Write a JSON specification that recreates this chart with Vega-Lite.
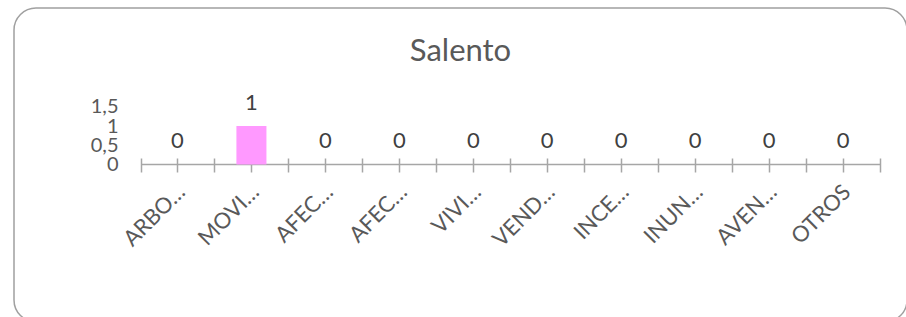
{
  "$schema": "https://vega.github.io/schema/vega-lite/v6.json",
  "width": 893,
  "height": 314,
  "autosize": {"type": "none"},
  "padding": {"left": 14, "top": 8, "right": 0, "bottom": 0},
  "background": "white",
  "title": {
    "text": "Salento",
    "offset": -84,
    "baseline": "alphabetic",
    "anchor": "middle",
    "frame": "group",
    "fontSize": 31,
    "font": "Lato",
    "fontWeight": "normal",
    "color": "#595959"
  },
  "data": {
    "values": [
      {"categoria": "ARBOLES CAIDOS", "eventos": 0},
      {"categoria": "MOVIMIENTOS EN MASA", "eventos": 1},
      {"categoria": "AFECTACION VIAL", "eventos": 0},
      {"categoria": "AFECTACION DE SERVICIOS", "eventos": 0},
      {"categoria": "VIVIENDAS AVERIADAS", "eventos": 0},
      {"categoria": "VENDAVALES", "eventos": 0},
      {"categoria": "INCENDIOS FORESTALES", "eventos": 0},
      {"categoria": "INUNDACIONES", "eventos": 0},
      {"categoria": "AVENIDAS TORRENCIALES", "eventos": 0},
      {"categoria": "OTROS", "eventos": 0}
    ]
  },
  "layer": [
    {
      "mark": {"type": "bar", "color": "#ff99ff", "width": {"band": 0.406}},
      "encoding": {
        "x": {
          "field": "categoria",
          "type": "nominal",
          "sort": null,
          "scale": {"range": [126.5, 866], "paddingInner": 0, "paddingOuter": 0},
          "axis": {
            "orient": "bottom",
            "offset": -158,
            "title": null,
            "domain": true,
            "domainColor": "#a6a6a6",
            "domainWidth": 1.5,
            "ticks": false,
            "tickSize": 0,
            "labelAngle": -45,
            "labelAlign": "right",
            "labelBaseline": "top",
            "labelPadding": 17,
            "labelOffset": -3,
            "labelFont": "Lato",
            "labelFontSize": 22,
            "labelColor": "#595959",
            "labelLimit": 200,
            "labelOverlap": false,
            "labelExpr": "length(datum.label) > 5 ? substring(datum.label, 0, 4) + '…' : datum.label"
          }
        },
        "y": {
          "field": "eventos",
          "type": "quantitative",
          "scale": {"domain": [-4.091, 4.065], "nice": false, "zero": false},
          "axis": {
            "orient": "left",
            "offset": -104,
            "title": null,
            "domain": false,
            "ticks": false,
            "tickSize": 0,
            "grid": false,
            "values": [0, 0.5, 1, 1.5],
            "labelExpr": "replace(format(datum.value, '~g'), '.', ',')",
            "labelPadding": 0,
            "labelFont": "Lato",
            "labelFontSize": 20,
            "labelColor": "#595959",
            "labelOverlap": false,
            "labelFlush": false,
            "labelBound": false
          }
        }
      }
    },
    {
      "mark": {"type": "text", "baseline": "alphabetic", "dy": -16, "font": "Lato", "fontSize": 22, "color": "#404040"},
      "encoding": {
        "x": {
          "field": "categoria",
          "type": "nominal",
          "sort": null,
          "axis": {
            "orient": "bottom",
            "offset": -164,
            "title": null,
            "domain": false,
            "labels": false,
            "ticks": true,
            "tickBand": "extent",
            "tickSize": 14,
            "tickColor": "#a6a6a6",
            "tickWidth": 1.5
          }
        },
        "y": {"field": "eventos", "type": "quantitative"},
        "text": {"field": "eventos", "type": "quantitative"}
      }
    },
    {
      "mark": {"type": "tick", "opacity": 0},
      "encoding": {
        "x": {
          "field": "categoria",
          "type": "nominal",
          "sort": null,
          "axis": {
            "orient": "bottom",
            "offset": -164,
            "title": null,
            "domain": false,
            "labels": false,
            "ticks": true,
            "tickBand": "center",
            "tickSize": 14,
            "tickColor": "#a6a6a6",
            "tickWidth": 1.5
          }
        }
      }
    }
  ],
  "resolve": {"axis": {"x": "independent"}},
  "config": {
    "view": {"stroke": "#a0a0a0", "strokeWidth": 1.5, "cornerRadius": 22}
  }
}
